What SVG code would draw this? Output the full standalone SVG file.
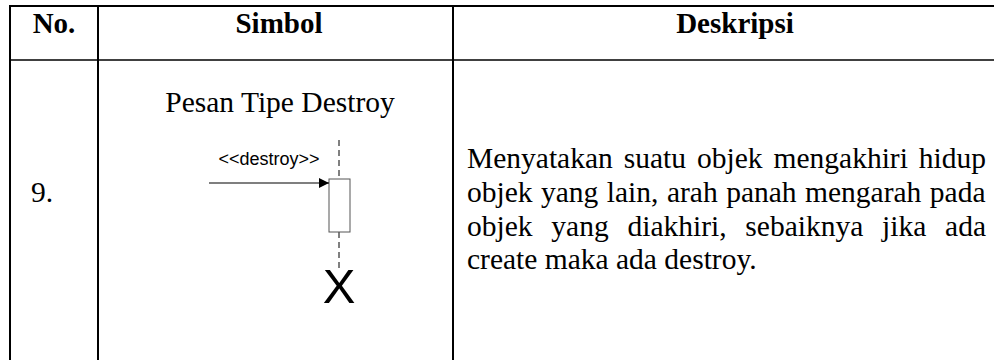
<svg xmlns="http://www.w3.org/2000/svg" width="994" height="360" viewBox="0 0 994 360">
<style>
.grid{stroke:#000;stroke-width:2;fill:none}
.hdr{font-family:"Liberation Serif","Times New Roman",serif;font-weight:bold;font-size:29px;fill:#000;text-anchor:middle}
.body{font-family:"Liberation Serif","Times New Roman",serif;font-size:29.5px;fill:#000}
.sans{font-family:"Liberation Sans",Arial,sans-serif;fill:#000}
.life{stroke:#000;stroke-width:1;stroke-dasharray:6 4;fill:none}
</style>
<defs>
<marker id="tri" markerWidth="10" markerHeight="10" refX="10" refY="5" orient="auto" markerUnits="userSpaceOnUse">
<path d="M0,0 L10,5 L0,10 Z" fill="#000"/>
</marker>
</defs>
<rect width="994" height="360" fill="#fff"/>
<g id="table">
<line class="grid" x1="9" y1="6" x2="994" y2="6"/>
<line class="grid" x1="10" y1="5" x2="10" y2="360"/>
<line class="grid" x1="98" y1="5" x2="98" y2="360"/>
<line class="grid" x1="453" y1="5" x2="453" y2="360"/>
<line x1="10" y1="60" x2="994" y2="60" stroke="#000" stroke-width="1.5"/>
</g>
<g id="header">
<text class="hdr" x="54" y="33">No.</text>
<text class="hdr" x="279" y="33">Simbol</text>
<text class="hdr" x="735" y="33">Deskripsi</text>
</g>
<g id="row-no">
<text class="body" x="31" y="202">9.</text>
</g>
<g id="symbol-title">
<text class="body" x="280" y="112" text-anchor="middle">Pesan Tipe Destroy</text>
</g>
<g id="lifeline">
<line class="life" x1="339" y1="140" x2="339" y2="179"/>
<line class="life" x1="339" y1="232" x2="339" y2="268"/>
</g>
<g id="activation">
<rect x="329" y="179" width="21" height="53" fill="#fff" stroke="#555" stroke-width="1"/>
</g>
<g id="destroy-mark">
<text class="sans" x="339" y="303" font-size="49" text-anchor="middle">X</text>
</g>
<g id="connectors">
<line x1="209" y1="183" x2="329" y2="183" stroke="#000" stroke-width="1.2" marker-end="url(#tri)"/>
<text class="sans" x="269" y="165" font-size="18" text-anchor="middle">&lt;&lt;destroy&gt;&gt;</text>
</g>
<g id="description">
<text class="body" x="467" y="168" word-spacing="3.6">Menyatakan suatu objek mengakhiri hidup</text>
<text class="body" x="467" y="202" word-spacing="1.1">objek yang lain, arah panah mengarah pada</text>
<text class="body" x="467" y="236" word-spacing="11.4">objek yang diakhiri, sebaiknya jika ada</text>
<text class="body" x="467" y="269">create maka ada destroy.</text>
</g>
</svg>
